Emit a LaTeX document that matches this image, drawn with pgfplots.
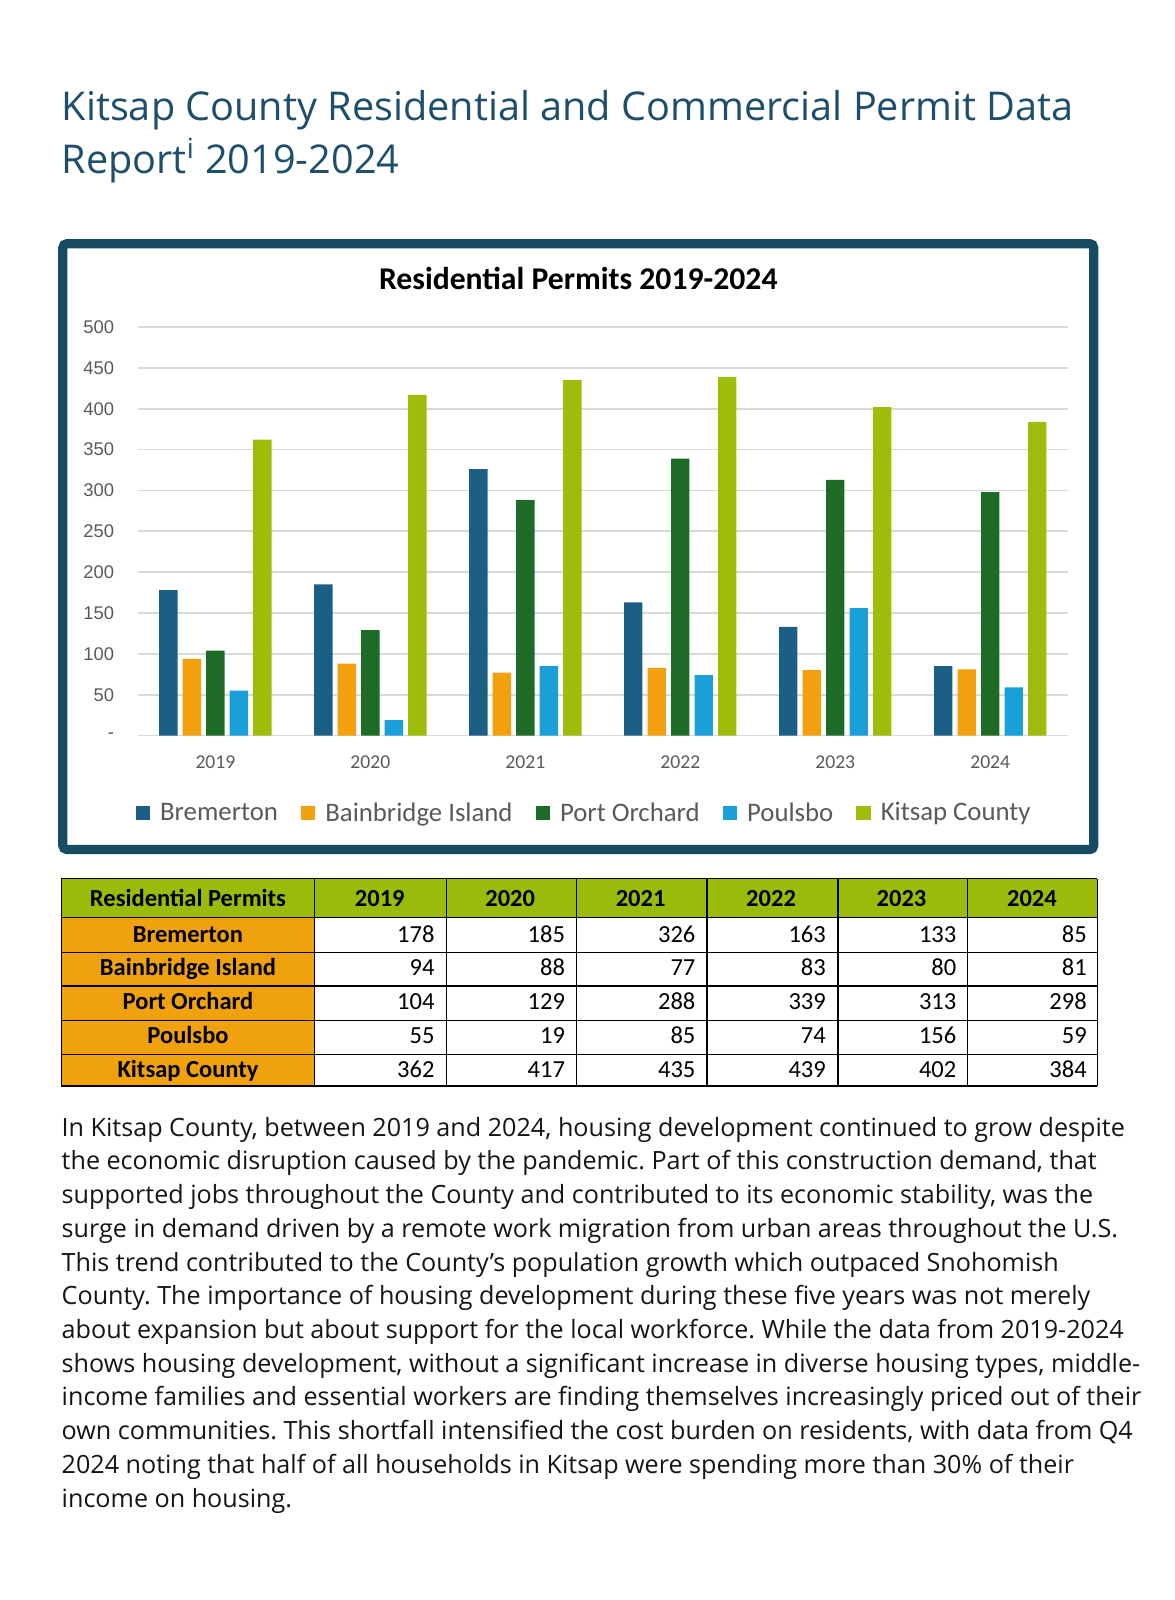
\documentclass[border=0pt]{standalone}
\usepackage{fontspec}
\usepackage{pgfplots}
\pgfplotsset{compat=1.18}
\setmainfont{Open Sans}
\newfontfamily\calibri{Carlito}
\newfontfamily\arial{Liberation Sans}

\definecolor{titleblue}{HTML}{1D4E6B}
\definecolor{boxblue}{HTML}{174A63}
\definecolor{cBrem}{HTML}{1B5F85}
\definecolor{cBain}{HTML}{F2A00E}
\definecolor{cPort}{HTML}{1D6B27}
\definecolor{cPoul}{HTML}{1A9FD9}
\definecolor{cKits}{HTML}{9EBD0B}
\definecolor{gridgray}{HTML}{D9D9D9}
\definecolor{ticktext}{HTML}{595959}
\definecolor{thead}{HTML}{9BBB0B}
\definecolor{tname}{HTML}{F0A10E}
\definecolor{bodytext}{HTML}{151515}

% one line of the paragraph: #1 = line index, #2 = text
\newcommand\pl[2]{\node[anchor=base west, inner sep=0pt, text=bodytext,
  font=\fontsize{12.3}{14}\selectfont] at (60,{1112+33*#1}) {#2};}

\begin{document}
\frenchspacing
\begin{tikzpicture}[x=0.5pt,y=-0.5pt]
\path[use as bounding box] (0,0) rectangle (1150,1566);

% page title
\node[anchor=base west, inner sep=0pt, text=titleblue,
  font=\fontsize{19.4}{23}\selectfont] at (60,118)
  {Kitsap County Residential and Commercial Permit Data};
\node[anchor=base west, inner sep=0pt, text=titleblue,
  font=\fontsize{19.4}{23}\selectfont] at (60,170)
  {Report\textsuperscript{i} 2019-2024};

% chart frame
\draw[boxblue, line width=4.5pt, rounded corners=2pt] (61.5,238.5) rectangle (1070.5,831.5);
\node[anchor=base, inner sep=0pt, font=\calibri\bfseries\fontsize{15.5}{18}\selectfont]
  at (566,283) {Residential Permits 2019-2024};

\coordinate (axo) at (135,720);
\begin{scope}[x=1cm,y=1cm]
\begin{axis}[
  at={(axo)}, anchor=south west,
  scale only axis, width=455pt, height=200pt,
  xmin=-0.5, xmax=5.5, ymin=0, ymax=500,
  ybar=2.5pt, bar width=9pt,
  axis line style={draw=none},
  major tick length=0pt,
  ymajorgrids, grid style={color=gridgray, line width=0.8pt},
  ytick={0,50,...,500},
  yticklabels={{-\hspace{4pt}},50,100,150,200,250,300,350,400,450,500},
  xtick={0,1,2,3,4,5},
  xticklabels={2019,2020,2021,2022,2023,2024},
  yticklabel style={font=\arial\fontsize{9}{10}\selectfont, text=ticktext,
    anchor=east, inner sep=0pt, xshift=-11.5pt},
  xticklabel style={font=\calibri\fontsize{9.6}{11}\selectfont, text=ticktext,
    anchor=center, inner sep=0pt, yshift=-13pt},
  legend style={at={(0.481,-0.19)}, anchor=center, draw=none, fill=none,
    legend columns=-1, font=\calibri\fontsize{13.1}{15}\selectfont, text=ticktext,
    /tikz/every odd column/.append style={column sep=3pt},
    /tikz/every even column/.append style={column sep=9.2pt}},
  legend image code/.code={\fill[#1] (0pt,-3.5pt) rectangle (7pt,3.5pt);},
]
\addplot[fill=cBrem, draw=none] coordinates {(0,178) (1,185) (2,326) (3,163) (4,133) (5,85)};
\addplot[fill=cBain, draw=none] coordinates {(0,94) (1,88) (2,77) (3,83) (4,80) (5,81)};
\addplot[fill=cPort, draw=none] coordinates {(0,104) (1,129) (2,288) (3,339) (4,313) (5,298)};
\addplot[fill=cPoul, draw=none] coordinates {(0,55) (1,19) (2,85) (3,74) (4,156) (5,59)};
\addplot[fill=cKits, draw=none] coordinates {(0,362) (1,417) (2,435) (3,439) (4,402) (5,384)};
\legend{Bremerton, Bainbridge Island, Port Orchard, Poulsbo, Kitsap County}
\end{axis}
\end{scope}

% table
\fill[thead] (60,860) rectangle (1074,898);
\fill[tname] (60,898) rectangle (308,1063);
\foreach \y in {860,898,932,965,999,1032,1063}
  \draw[black, line width=0.7pt] (60,\y) -- (1074,\y);
\foreach \x in {60,308,437,564,692,820,947,1074}
  \draw[black, line width=0.7pt] (\x,860) -- (\x,1063);
\node[anchor=base, inner sep=0pt, font=\calibri\bfseries\fontsize{12}{14}\selectfont]
  at (184,887) {Residential Permits};
\foreach \yr [count=\j] in {2019,2020,2021,2022,2023,2024}
  \node[anchor=base, inner sep=0pt, font=\calibri\bfseries\fontsize{12}{14}\selectfont]
    at ({244+127.67*\j},887) {\yr};
\foreach \nm [count=\i] in {Bremerton,Bainbridge Island,Port Orchard,Poulsbo,Kitsap County}
  \node[anchor=base, inner sep=0pt, font=\calibri\bfseries\fontsize{12}{14}\selectfont]
    at (184,{922+33.25*(\i-1)}) {\nm};
\foreach \vals [count=\i] in {{178,185,326,163,133,85},{94,88,77,83,80,81},
    {104,129,288,339,313,298},{55,19,85,74,156,59},{362,417,435,439,402,384}}
  \foreach \v [count=\j] in \vals
    \node[anchor=base east, inner sep=0pt, font=\calibri\fontsize{12}{14}\selectfont]
      at ({298+127.67*\j},{922+33.25*(\i-1)}) {\v};

% paragraph
\pl{0}{In Kitsap County, between 2019 and 2024, housing development continued to grow despite}
\pl{1}{the economic disruption caused by the pandemic. Part of this construction demand, that}
\pl{2}{supported jobs throughout the County and contributed to its economic stability, was the}
\pl{3}{surge in demand driven by a remote work migration from urban areas throughout the U.S.}
\pl{4}{This trend contributed to the County’s population growth which outpaced Snohomish}
\pl{5}{County. The importance of housing development during these five years was not merely}
\pl{6}{about expansion but about support for the local workforce. While the data from 2019-2024}
\pl{7}{shows housing development, without a significant increase in diverse housing types, middle-}
\pl{8}{income families and essential workers are finding themselves increasingly priced out of their}
\pl{9}{own communities. This shortfall intensified the cost burden on residents, with data from Q4}
\pl{10}{2024 noting that half of all households in Kitsap were spending more than 30\% of their}
\pl{11}{income on housing.}
\end{tikzpicture}
\end{document}
